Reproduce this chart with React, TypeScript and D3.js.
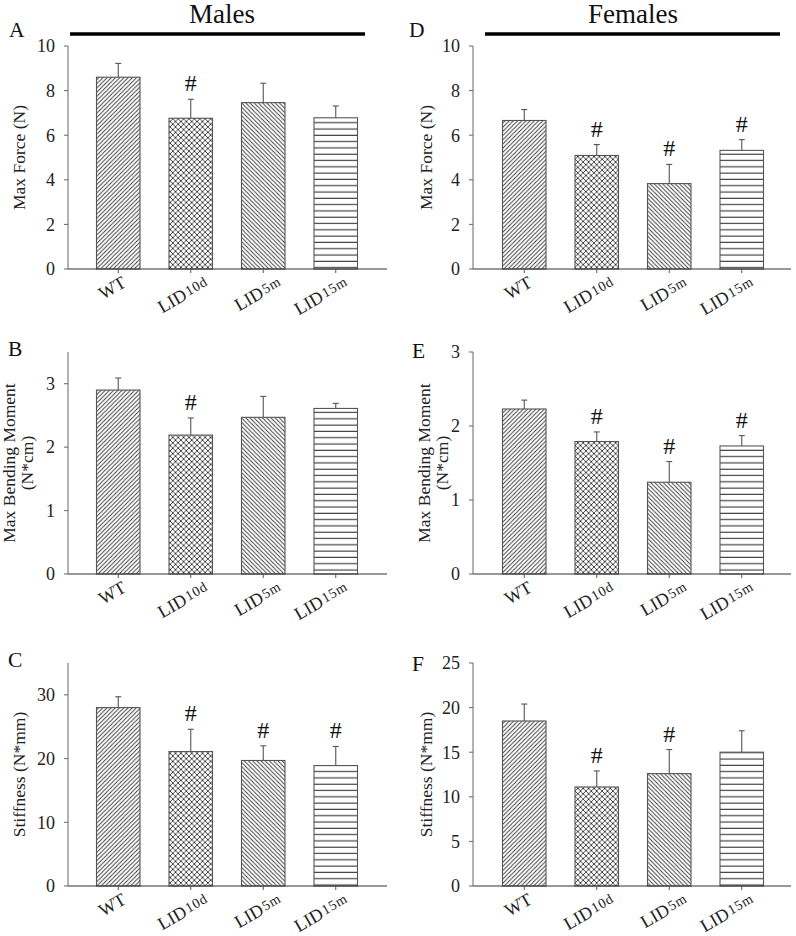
import * as d3 from 'd3';

// groups on the x axis (label split into base + small suffix)
const catBase = ['WT', 'LID', 'LID', 'LID'];
const catSub = ['', '10d', '5m', '15m'];

// Males
const forceMales = [8.6, 6.76, 7.46, 6.78];
const forceMalesErr = [0.62, 0.85, 0.87, 0.53];
const forceMalesSig = [false, true, false, false];
const bendMales = [2.9, 2.19, 2.47, 2.61];
const bendMalesErr = [0.19, 0.27, 0.33, 0.08];
const bendMalesSig = [false, true, false, false];
const stiffMales = [28.0, 21.1, 19.7, 18.9];
const stiffMalesErr = [1.7, 3.5, 2.3, 3.0];
const stiffMalesSig = [false, true, true, true];

// Females
const forceFemales = [6.66, 5.09, 3.83, 5.32];
const forceFemalesErr = [0.49, 0.49, 0.86, 0.48];
const forceFemalesSig = [false, true, true, true];
const bendFemales = [2.23, 1.79, 1.24, 1.73];
const bendFemalesErr = [0.12, 0.13, 0.28, 0.14];
const bendFemalesSig = [false, true, true, true];
const stiffFemales = [18.5, 11.1, 12.6, 15.0];
const stiffFemalesErr = [1.9, 1.8, 2.7, 2.4];
const stiffFemalesSig = [false, true, true, false];

const FONT = "'Liberation Serif', 'Times New Roman', serif";
const fills = ['url(#hFwd)', 'url(#hCross)', 'url(#hBack)', 'url(#hHoriz)'];
const labelShift = [9, 19, 20, 14];

const cols = [
  { axisX: 68, bandL: 82, bandR: 372, axisR: 387 },
  { axisX: 473, bandL: 488, bandR: 778, axisR: 791 },
];
const rows = [
  { top: 46, zero: 269 },
  { top: 352, zero: 574 },
  { top: 663, zero: 886 },
];

interface PanelProps {
  col: number;
  row: number;
  letter: string;
  letterX: number;
  letterY: number;
  title: string[];
  titleX: number[];
  yMax: number;
  ticks: number[];
  values: number[];
  errors: number[];
  sig: boolean[];
}

function Panel({ col, row, letter, letterX, letterY, title, titleX, yMax, ticks, values, errors, sig }: PanelProps) {
  const c = cols[col];
  const r = rows[row];
  const x = d3
    .scaleBand<number>()
    .domain(d3.range(values.length))
    .range([c.bandL, c.bandR])
    .paddingInner(0.4)
    .paddingOuter(0.2);
  const y = d3.scaleLinear().domain([0, yMax]).range([r.zero, r.top]);
  const midY = (r.top + r.zero) / 2;

  return (
    <g>
      <text x={letterX} y={letterY} fontFamily={FONT} fontSize={21.5} fill="#111">
        {letter}
      </text>

      {/* y title */}
      {title.map((t, i) => (
        <text
          key={t}
          transform={`translate(${titleX[i]},${midY}) rotate(-90)`}
          textAnchor="middle"
          fontFamily={FONT}
          fontSize={17.5}
          fill="#222"
        >
          {t}
        </text>
      ))}

      {/* bars */}
      {values.map((v, i) => {
        const bx = x(i)!;
        const bw = x.bandwidth();
        const cx = bx + bw / 2;
        const capY = y(v + errors[i]);
        return (
          <g key={i}>
            <rect x={bx} y={y(v)} width={bw} height={r.zero - y(v)} fill="#fff" />
            <rect x={bx} y={y(v)} width={bw} height={r.zero - y(v)} fill={fills[i]} stroke="#555" strokeWidth={1.1} />
            <line x1={cx} x2={cx} y1={y(v)} y2={capY} stroke="#555" strokeWidth={1.1} />
            <line x1={cx - 3} x2={cx + 3} y1={capY} y2={capY} stroke="#555" strokeWidth={1.1} />
            {sig[i] && (
              <text x={cx} y={capY - 8} textAnchor="middle" fontFamily={FONT} fontSize={24} fill="#111">
                #
              </text>
            )}
          </g>
        );
      })}

      {/* y axis */}
      <line x1={c.axisX} x2={c.axisX} y1={r.top} y2={r.zero} stroke="#666" strokeWidth={1} />
      {ticks.map((t) => (
        <g key={t}>
          <line x1={c.axisX - 4} x2={c.axisX} y1={y(t)} y2={y(t)} stroke="#666" strokeWidth={1} />
          <text
            x={c.axisX - 13}
            y={y(t)}
            dy="0.35em"
            textAnchor="end"
            fontFamily={FONT}
            fontSize={18}
            fill="#222"
          >
            {t}
          </text>
        </g>
      ))}

      {/* x axis */}
      <line x1={c.axisX} x2={c.axisR} y1={r.zero} y2={r.zero} stroke="#333" strokeWidth={1.1} />
      {values.map((_, i) => {
        const cx = x(i)! + x.bandwidth() / 2;
        return (
          <g key={i}>
            <line x1={cx} x2={cx} y1={r.zero} y2={r.zero + 4} stroke="#555" strokeWidth={1} />
            <text
              transform={`translate(${cx + labelShift[i]},${r.zero + 17}) rotate(-30)`}
              textAnchor="end"
              fontFamily={FONT}
              fontSize={18}
              fill="#222"
            >
              {catBase[i]}
              {catSub[i] && (
                <tspan fontSize={14} dx={1.5} dy={-2} letterSpacing={0.8}>
                  {catSub[i]}
                </tspan>
              )}
            </text>
          </g>
        );
      })}
    </g>
  );
}

export default function App() {
  return (
    <svg
      width={796}
      height={936}
      viewBox="0 0 796 936"
      style={{ position: 'absolute', left: 0, top: 0, background: '#fff' }}
    >
      <defs>
        <pattern id="hFwd" width={4.2} height={4.2} patternUnits="userSpaceOnUse">
          <path d="M0,4.2 L4.2,0 M-1,1 L1,-1 M3.2,5.2 L5.2,3.2" stroke="#333" strokeWidth={0.9} />
        </pattern>
        <pattern id="hBack" width={4.2} height={4.2} patternUnits="userSpaceOnUse">
          <path d="M0,0 L4.2,4.2 M-1,3.2 L1,5.2 M3.2,-1 L5.2,1" stroke="#333" strokeWidth={0.9} />
        </pattern>
        <pattern id="hCross" width={5.4} height={5.4} patternUnits="userSpaceOnUse">
          <path
            d="M0,5.4 L5.4,0 M-1,1 L1,-1 M4.4,6.4 L6.4,4.4 M0,0 L5.4,5.4 M-1,4.4 L1,6.4 M4.4,-1 L6.4,1"
            stroke="#333"
            strokeWidth={0.9}
          />
        </pattern>
        <pattern id="hHoriz" width={10} height={6.3} patternUnits="userSpaceOnUse">
          <line x1={0} x2={10} y1={3} y2={3} stroke="#333" strokeWidth={1.1} />
        </pattern>
      </defs>
      <rect width={796} height={936} fill="#fff" />

      {/* group headers */}
      <text x={222} y={23} textAnchor="middle" fontFamily={FONT} fontSize={27} fill="#111">
        Males
      </text>
      <line x1={70} x2={365} y1={34} y2={34} stroke="#000" strokeWidth={3.5} />
      <text x={633} y={23} textAnchor="middle" fontFamily={FONT} fontSize={27} fill="#111">
        Females
      </text>
      <line x1={485} x2={780} y1={34} y2={34} stroke="#000" strokeWidth={3.5} />

      <Panel col={0} row={0} letter="A" letterX={9} letterY={37} title={['Max Force (N)']} titleX={[25]}
        yMax={10} ticks={[0, 2, 4, 6, 8, 10]} values={forceMales} errors={forceMalesErr} sig={forceMalesSig} />
      <Panel col={0} row={1} letter="B" letterX={8} letterY={356} title={['Max Bending Moment', '(N*cm)']} titleX={[15, 33]}
        yMax={3.5} ticks={[0, 1, 2, 3]} values={bendMales} errors={bendMalesErr} sig={bendMalesSig} />
      <Panel col={0} row={2} letter="C" letterX={8} letterY={667} title={['Stiffness (N*mm)']} titleX={[25]}
        yMax={35} ticks={[0, 10, 20, 30]} values={stiffMales} errors={stiffMalesErr} sig={stiffMalesSig} />

      <Panel col={1} row={0} letter="D" letterX={409} letterY={37} title={['Max Force (N)']} titleX={[432]}
        yMax={10} ticks={[0, 2, 4, 6, 8, 10]} values={forceFemales} errors={forceFemalesErr} sig={forceFemalesSig} />
      <Panel col={1} row={1} letter="E" letterX={412} letterY={358} title={['Max Bending Moment', '(N*cm)']} titleX={[430, 448]}
        yMax={3} ticks={[0, 1, 2, 3]} values={bendFemales} errors={bendFemalesErr} sig={bendFemalesSig} />
      <Panel col={1} row={2} letter="F" letterX={412} letterY={671} title={['Stiffness (N*mm)']} titleX={[432]}
        yMax={25} ticks={[0, 5, 10, 15, 20, 25]} values={stiffFemales} errors={stiffFemalesErr} sig={stiffFemalesSig} />
    </svg>
  );
}
